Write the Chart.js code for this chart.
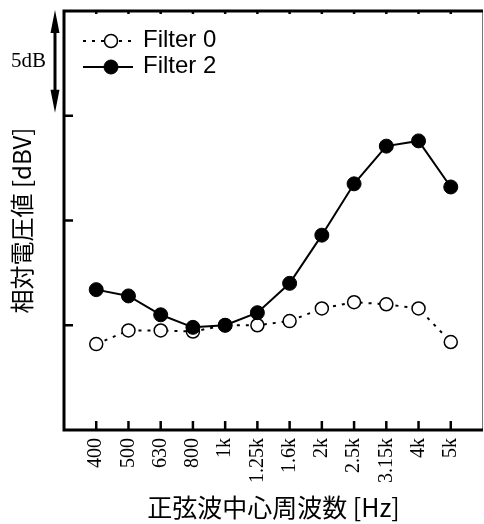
<!DOCTYPE html>
<html>
<head>
<meta charset="utf-8">
<script src="https://cdn.jsdelivr.net/npm/chart.js@4"></script>
<style>
  body { margin: 0; background: #fff; }
  canvas { display: block; }
</style>
</head>
<body>
<canvas id="chart" width="484" height="524"></canvas>
<script>
const freqLabels = ["400", "500", "630", "800", "1k", "1.25k", "1.6k", "2k", "2.5k", "3.15k", "4k", "5k"]
const filter0 = [-0.9, -0.25, -0.25, -0.3, 0, 0, 0.2, 0.8, 1.1, 1.0, 0.8, -0.8]
const filter2 = [1.7, 1.4, 0.5, -0.1, 0, 0.6, 2.0, 4.3, 6.75, 8.55, 8.8, 6.6]
const yTicks = [0, 5, 10]
const scaleBar = [10, 15]  // 5dB arrow

const toPoints = (arr) => arr.map((v, i) => ({ x: i, y: v }))

// axes box, inward ticks, 5dB arrow and legend
const decor = {
  id: "decor",
  afterDraw(chart) {
    const ctx = chart.ctx
    const { left, right, top, bottom } = chart.chartArea
    const xs = chart.scales.x
    const ys = chart.scales.y
    ctx.save()
    ctx.strokeStyle = "#000"
    ctx.fillStyle = "#000"

    // right border (thin)
    ctx.strokeStyle = "#777"
    ctx.lineWidth = 1
    ctx.beginPath()
    ctx.moveTo(right - 0.5, top)
    ctx.lineTo(right - 0.5, bottom)
    ctx.stroke()

    ctx.strokeStyle = "#000"
    ctx.lineWidth = 3
    ctx.beginPath()
    ctx.moveTo(left, top)
    ctx.lineTo(right, top)
    ctx.moveTo(left, top - 1.5)
    ctx.lineTo(left, bottom + 1.5)
    ctx.moveTo(left - 1.5, bottom)
    ctx.lineTo(right, bottom)
    ctx.stroke()

    // inward ticks
    ctx.lineWidth = 2.5
    ctx.beginPath()
    freqLabels.forEach((lbl, i) => {
      const px = xs.getPixelForValue(i)
      ctx.moveTo(px, bottom)
      ctx.lineTo(px, bottom - 9)
      ctx.moveTo(px, top)
      ctx.lineTo(px, top + 3)
    })
    yTicks.forEach(v => {
      const py = ys.getPixelForValue(v)
      ctx.moveTo(left, py)
      ctx.lineTo(left + 9, py)
    })
    ctx.stroke()

    // 5dB double arrow
    const ax = left - 9
    const y1 = ys.getPixelForValue(scaleBar[1]) - 1
    const y2 = ys.getPixelForValue(scaleBar[0]) - 3
    ctx.lineWidth = 3
    ctx.beginPath()
    ctx.moveTo(ax, y1 + 15)
    ctx.lineTo(ax, y2 - 15)
    ctx.stroke()
    ctx.beginPath()
    ctx.moveTo(ax, y1)
    ctx.lineTo(ax - 4.5, y1 + 23)
    ctx.lineTo(ax + 4.5, y1 + 23)
    ctx.closePath()
    ctx.moveTo(ax, y2)
    ctx.lineTo(ax - 4.5, y2 - 23)
    ctx.lineTo(ax + 4.5, y2 - 23)
    ctx.closePath()
    ctx.fill()
    ctx.font = "21px 'Liberation Serif'"
    ctx.textAlign = "right"
    ctx.textBaseline = "middle"
    ctx.fillText("5dB", ax - 9, (y1 + y2) / 2)

    // legend
    const rows = [
      { ds: chart.data.datasets[0], y: 41 },
      { ds: chart.data.datasets[1], y: 67 }
    ]
    rows.forEach(r => {
      ctx.strokeStyle = "#000"
      ctx.lineWidth = r.ds.borderWidth
      ctx.setLineDash(r.ds.borderDash || [])
      ctx.beginPath()
      ctx.moveTo(left + 19, r.y)
      ctx.lineTo(left + 69, r.y)
      ctx.stroke()
      ctx.setLineDash([])
      ctx.beginPath()
      ctx.arc(left + 47, r.y, r.ds.pointRadius, 0, Math.PI * 2)
      ctx.fillStyle = r.ds.pointBackgroundColor
      ctx.fill()
      ctx.lineWidth = r.ds.pointBorderWidth
      ctx.stroke()
      ctx.fillStyle = "#000"
      ctx.font = "24px 'Liberation Sans'"
      ctx.textAlign = "left"
      ctx.textBaseline = "middle"
      ctx.fillText(r.ds.label, left + 79, r.y - 1)
    })
    ctx.restore()
  }
}

new Chart(document.getElementById("chart"), {
  type: "line",
  data: {
    datasets: [
      {
        label: "Filter 0",
        data: toPoints(filter0),
        borderColor: "#000",
        borderWidth: 2,
        borderDash: [3, 6],
        pointRadius: 6.5,
        pointBorderWidth: 1.5,
        pointBackgroundColor: "#fff",
        pointBorderColor: "#000",
        order: 1
      },
      {
        label: "Filter 2",
        data: toPoints(filter2),
        borderColor: "#000",
        borderWidth: 2,
        pointRadius: 7,
        pointBorderWidth: 1,
        pointBackgroundColor: "#000",
        pointBorderColor: "#000",
        order: 0
      }
    ]
  },
  options: {
    responsive: false,
    animation: false,
    devicePixelRatio: 1,
    layout: { autoPadding: false, padding: { top: 11, right: 1, left: 0, bottom: 0 } },
    plugins: { legend: { display: false }, tooltip: { enabled: false } },
    scales: {
      x: {
        type: "linear",
        min: -1,
        max: 12,
        afterFit: (s) => {
          s.height = 94
          s.paddingLeft = 0
          s.paddingRight = 0
        },
        afterBuildTicks: (s) => {
          s.ticks = freqLabels.map((l, i) => ({ value: i }))
        },
        grid: { display: false, drawTicks: false },
        border: { display: false },
        ticks: {
          autoSkip: false,
          minRotation: 90,
          maxRotation: 90,
          padding: 8,
          color: "#000",
          font: { family: "Liberation Serif", size: 20 },
          callback: (v) => freqLabels[v] ?? ""
        },
        title: {
          display: true,
          text: "正弦波中心周波数 [Hz]",
          color: "#000",
          font: { family: "Noto Sans CJK JP", size: 25 },
          padding: { top: 0, bottom: 2 }
        }
      },
      y: {
        min: -5,
        max: 15,
        afterFit: (s) => { s.width = 64 },
        grid: { display: false, drawTicks: false },
        border: { display: false },
        ticks: { display: false },
        title: {
          display: true,
          text: "相対電圧値 [dBV]",
          color: "#000",
          font: { family: "Noto Sans CJK JP", size: 24 },
          padding: { top: 7, bottom: 0 }
        }
      }
    }
  },
  plugins: [decor]
})
</script>
</body>
</html>
